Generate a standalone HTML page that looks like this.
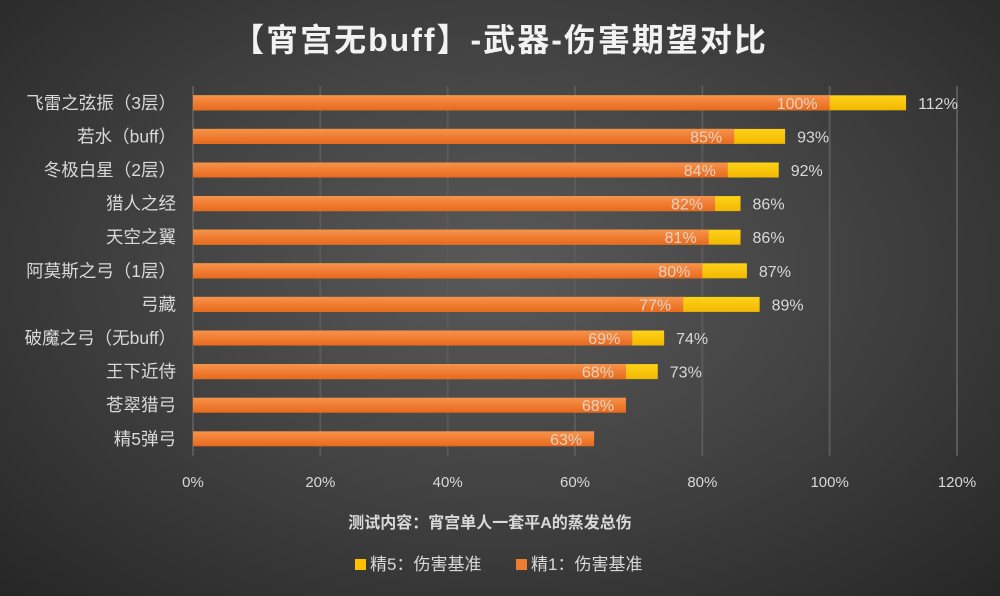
<!DOCTYPE html>
<html><head><meta charset="utf-8"><style>
body{margin:0;width:1000px;height:596px;overflow:hidden;background:radial-gradient(ellipse at 50% 45%,#595959 0%,#444 45%,#262626 100%);font-family:"Liberation Sans","Noto Sans CJK SC",sans-serif}
svg{display:block}
</style></head><body>
<svg id="c" width="1000" height="596">
<defs>
<linearGradient id="og" x1="0" y1="0" x2="0" y2="1"><stop offset="0" stop-color="#f7934a"/><stop offset="1" stop-color="#e8691d"/></linearGradient>
<linearGradient id="yg" x1="0" y1="0" x2="0" y2="1"><stop offset="0" stop-color="#ffd21a"/><stop offset="1" stop-color="#f2b800"/></linearGradient>
</defs>
<text x="500" y="51" text-anchor="middle" font-size="32" font-weight="bold" letter-spacing="2" fill="#f2f2f2">【宵宫无buff】-武器-伤害期望对比</text>
<g id="grid"></g><g id="bars"></g><g id="cats"></g><g id="ticks"></g>
<text x="490" y="528" text-anchor="middle" font-size="16" font-weight="bold" fill="#d9d9d9">测试内容：宵宫单人一套平A的蒸发总伤</text>
<g>
<rect x="355" y="559" width="11" height="11" fill="#ffc000"/>
<text x="370" y="570" font-size="17" fill="#d9d9d9">精5：伤害基准</text>
<rect x="516" y="559" width="11" height="11" fill="#ed7d31"/>
<text x="531" y="570" font-size="17" fill="#d9d9d9">精1：伤害基准</text>
</g>
</svg>
<script>
const categories=["飞雷之弦振（3层）","若水（buff）","冬极白星（2层）","猎人之经","天空之翼","阿莫斯之弓（1层）","弓藏","破魔之弓（无buff）","王下近侍","苍翠猎弓","精5弹弓"];
const r1Values=[100,85,84,82,81,80,77,69,68,68,63];
const r5Values=[112,93,92,86,86,87,89,74,73,null,null];
const tickLabels=["0%","20%","40%","60%","80%","100%","120%"];
const tickValues=[0,20,40,60,80,100,120];
const NS="http://www.w3.org/2000/svg";
const x0=193,x1=957,vmax=120,yTop=86,rowH=33.6,barH=15;
const xs=v=>x0+(v/vmax)*(x1-x0);
const yc=i=>yTop+rowH*(i+0.5);
function mk(t,a,p){const e=document.createElementNS(NS,t);for(const k in a)e.setAttribute(k,a[k]);p.appendChild(e);return e;}
const grid=document.getElementById('grid'),bars=document.getElementById('bars'),cats=document.getElementById('cats'),ticks=document.getElementById('ticks');
tickValues.forEach((v,i)=>{
 const l=mk('line',{x1:xs(v),x2:xs(v),y1:yTop,y2:yTop+rowH*categories.length,stroke:'#5a5a5a','stroke-width':2},grid);
 
 
 const t=mk('text',{x:xs(v),y:487,'text-anchor':'middle','font-size':15,fill:'#d9d9d9'},ticks);
 t.textContent=tickLabels[i];
 
 
});
categories.forEach((c,i)=>{
 const y=yc(i);
 const t=mk('text',{x:176,y:y+6,'text-anchor':'end','font-size':17.5,fill:'#d9d9d9'},cats);
 t.textContent=c;
 
 
 if(r5Values[i]!=null){
  const b=mk('rect',{x:x0,y:y-barH/2,width:xs(r5Values[i])-x0,height:barH,fill:'url(#yg)'},bars);
  
  
  const l=mk('text',{x:xs(r5Values[i])+12,y:y+6,'font-size':16,fill:'#d9d9d9'},bars);
  l.textContent=r5Values[i]+'%';
  
  
 }
 const b=mk('rect',{x:x0,y:y-barH/2,width:xs(r1Values[i])-x0,height:barH,fill:'url(#og)'},bars);
 
 
 const l=mk('text',{x:xs(r1Values[i])-12,y:y+6,'text-anchor':'end','font-size':16,fill:'#e6d2c4'},bars);
 l.textContent=r1Values[i]+'%';
 
 
});
</script>
</body></html>
